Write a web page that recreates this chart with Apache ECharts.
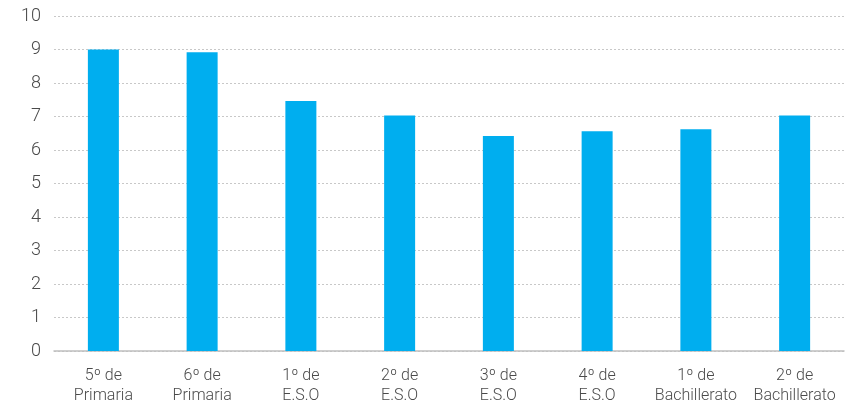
<!DOCTYPE html>
<html lang="es">
<head>
    <meta charset="UTF-8">
    <title>Chart</title>
    <script src="https://cdn.jsdelivr.net/npm/echarts@6/dist/echarts.min.js"></script>
    <style>
        html, body { margin: 0; padding: 0; background: #fff; }
        #chart { width: 863px; height: 406px; }
    </style>
</head>
<body>
<div id="chart"></div>
<script>
    var categories = ['5º de\nPrimaria', '6º de\nPrimaria', '1º de\nE.S.O', '2º de\nE.S.O',
        '3º de\nE.S.O', '4º de\nE.S.O', '1º de\nBachillerato', '2º de\nBachillerato'];
    var values = [9.0, 8.92, 7.46, 7.03, 6.42, 6.56, 6.62, 7.03];

    var myChart = echarts.init(document.getElementById('chart'));
    var option = {
        animation: false,
        grid: { left: 54, right: 19, top: 16, bottom: 55, containLabel: false },
        xAxis: {
            type: 'category',
            data: categories,
            axisTick: { show: false },
            axisLine: { lineStyle: { color: '#bfbfbf', width: 1.5 } },
            axisLabel: {
                color: '#4a4a4a',
                fontFamily: 'Roboto',
                fontWeight: 300,
                fontSize: 16,
                lineHeight: 20,
                margin: 15,
                interval: 0
            }
        },
        yAxis: {
            type: 'value',
            min: 0,
            max: 10,
            interval: 1,
            axisLine: { show: false },
            axisTick: { show: false },
            axisLabel: {
                color: '#4a4a4a',
                fontFamily: 'Roboto',
                fontWeight: 300,
                fontSize: 18,
                margin: 13
            },
            splitLine: { lineStyle: { color: '#c8c8c8', type: [2, 2], width: 1 } }
        },
        series: [{
            type: 'bar',
            data: values,
            barWidth: 31,
            itemStyle: { color: '#00aeef' }
        }]
    };
    myChart.setOption(option);
</script>
</body>
</html>
